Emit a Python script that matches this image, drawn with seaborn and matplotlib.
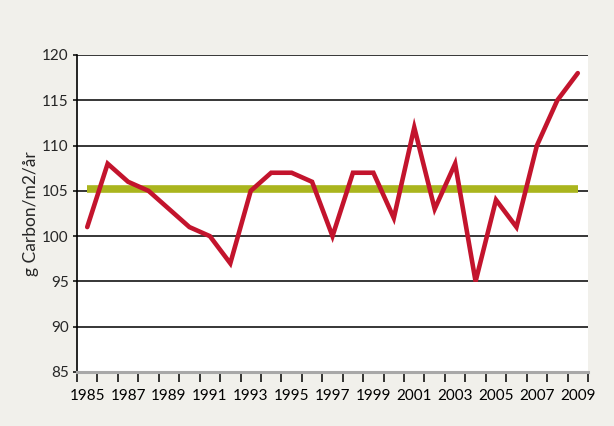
import matplotlib
matplotlib.use("Agg")
import matplotlib.pyplot as plt
import seaborn as sns
import pandas as pd
import numpy as np

years = list(range(1985, 2010))
carbon = [101, 108, 106, 105, 103, 101, 100, 97, 105, 107, 107, 106, 100,
          107, 107, 102, 112, 103, 108, 95, 104, 101, 110, 115, 118]
mean_level = 105.15
y_ticks = [85, 90, 95, 100, 105, 110, 115, 120]
x_labels = list(range(1985, 2010, 2))
ylabel = "g Carbon/m2/år"

sns.set_theme(style="white")
plt.rcParams['font.family'] = ['Lato', 'DejaVu Sans']

bg = "#f1f0eb"
fig = plt.figure(figsize=(6.14, 4.26), dpi=100, facecolor=bg)
ax = fig.add_axes([77/614, 1-372/426, (588-77)/614, (372-55)/426])
ax.set_facecolor("white")

df = pd.DataFrame({"year": years, "carbon": carbon})
df["mean"] = mean_level

for y in y_ticks[1:]:
    ax.axhline(y, color="black", lw=1.1, zorder=1)

sns.lineplot(data=df, x="year", y="mean", ax=ax, color="#aab51e", lw=5.5,
             zorder=2, solid_capstyle="butt")
sns.lineplot(data=df, x="year", y="carbon", ax=ax, color="#c3142d", lw=3.3,
             zorder=3, solid_joinstyle="miter")

ax.set_xlim(1984.5, 2009.5)
ax.set_ylim(85, 120)
ax.set_yticks(y_ticks)
ax.set_yticklabels([str(v) for v in y_ticks], fontsize=11)
ax.set_xticks(x_labels)
ax.set_xticklabels([str(v) for v in x_labels], fontsize=11)
ax.set_xticks(np.arange(1984.5, 2010.0, 1.0), minor=True)
ax.tick_params(axis="x", which="major", length=0, pad=12, colors="black")
ax.tick_params(axis="x", which="minor", length=7, width=1.1, color="black", direction="out", bottom=True)
ax.tick_params(axis="y", which="major", length=3, width=1.1, color="black", direction="out", left=True, pad=3)

for s in ["top", "right"]:
    ax.spines[s].set_visible(False)
ax.spines["left"].set_color("black")
ax.spines["left"].set_linewidth(1.2)
ax.spines["bottom"].set_color("#a8a8a8")
ax.spines["bottom"].set_linewidth(2.2)

ax.set_xlabel("")
ax.set_ylabel(ylabel, fontsize=12.5, labelpad=2)

fig.savefig("out.png", dpi=100, facecolor=bg)
